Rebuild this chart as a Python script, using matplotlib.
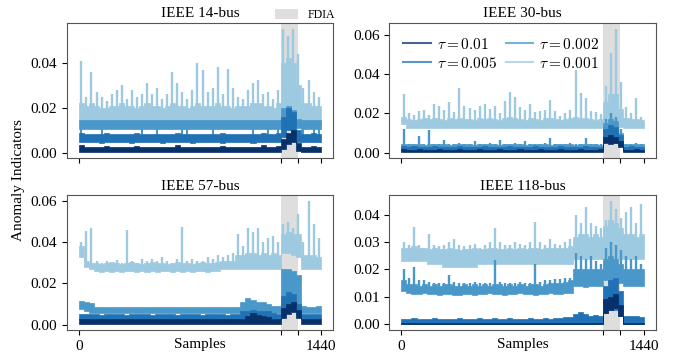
import numpy as np
import matplotlib.pyplot as plt

plt.rcParams['font.family'] = ['Liberation Serif', 'DejaVu Serif']
plt.rcParams['mathtext.fontset'] = 'cm'
plt.rcParams['font.size'] = 11

titles = ['IEEE 14-bus', 'IEEE 30-bus', 'IEEE 57-bus', 'IEEE 118-bus']
taus = ['0.01', '0.005', '0.002', '0.001']
colors = ['#08306b', '#2171b5', '#4a98c9', '#9ecae1']
n_samples = 1440
bin_width = 30
fdia = (1200, 1300)

# values in units of 1e-3, one value per 30-sample bin
# lo = bottom of the noise band, hi = top of the noise band, peak = tallest spike in the bin
# IEEE 14-bus
b14_t01_lo = [0.5, 0.4, 0.5, 0.5, 0.4, 0.5, 0.5, 0.4, 0.5, 0.5, 0.4, 0.5, 0.5, 0.4, 0.5, 0.5,
              0.4, 0.5, 0.5, 0.4, 0.5, 0.5, 0.4, 0.5, 0.5, 0.4, 0.5, 0.5, 0.4, 0.5, 0.5, 0.4,
              0.5, 0.5, 0.4, 0.5, 0.5, 0.4, 0.5, 0.5, 1.5, 4.0, 5.0, 1.0, 0.5, 0.4, 0.5, 0.5]
b14_t01_hi = [3.5, 2.5, 2.6, 2.4, 2.5, 3.0, 2.5, 2.4, 2.6, 2.5, 2.5, 3.2, 2.4, 2.5, 2.6, 2.5,
              2.4, 2.6, 2.5, 3.5, 2.4, 2.5, 2.6, 2.5, 2.4, 2.6, 2.5, 2.5, 3.0, 2.4, 2.5, 2.6,
              2.5, 2.4, 2.6, 2.5, 3.5, 2.4, 2.5, 3.0, 6.0, 9.0, 10.0, 4.5, 2.6, 2.5, 3.0, 2.5]
b14_t005_lo = [4.8, 4.6, 4.8, 4.8, 4.5, 4.8, 4.8, 4.6, 4.8, 4.8, 4.5, 4.8, 4.8, 4.6, 4.8, 4.8,
               4.5, 4.8, 4.8, 4.6, 4.8, 4.8, 4.5, 4.8, 4.8, 4.6, 4.8, 4.8, 4.5, 4.8, 4.8, 4.6,
               4.8, 4.8, 4.5, 4.8, 4.8, 4.6, 4.8, 4.8, 7.0, 10.0, 9.0, 5.0, 4.8, 4.6, 4.8, 4.8]
b14_t005_hi = [9.0, 8.5, 8.6, 8.4, 8.5, 8.8, 8.5, 8.4, 8.6, 8.5, 8.5, 9.0, 8.4, 8.5, 8.6, 8.5,
               8.4, 8.6, 8.5, 8.8, 8.4, 8.5, 8.6, 8.5, 8.4, 8.6, 8.5, 8.5, 8.8, 8.4, 8.5, 8.6,
               8.5, 8.4, 8.6, 8.5, 9.0, 8.4, 8.5, 8.8, 16.0, 20.0, 18.0, 10.0, 8.6, 8.5, 8.8, 8.5]
b14_t002_lo = [10.5, 10.5, 10.6, 10.4, 10.5, 10.5, 10.6, 10.4, 10.5, 10.5, 10.4, 10.6, 10.5, 10.5, 10.4, 10.5,
               10.5, 10.6, 10.4, 10.5, 10.5, 10.5, 10.4, 10.5, 10.6, 10.4, 10.5, 10.5, 10.6, 10.4, 10.5, 10.5,
               10.4, 10.6, 10.5, 10.5, 10.4, 10.5, 10.5, 10.5, 12.0, 12.0, 12.0, 11.0, 10.5, 10.5, 10.5, 10.5]
b14_t002_hi = [14.5, 14.6, 14.4, 14.5, 14.5, 14.6, 14.4, 14.5, 14.6, 14.5, 14.4, 14.6, 14.5, 14.5, 14.4, 14.6,
               14.5, 14.5, 14.6, 14.4, 14.5, 14.6, 14.5, 14.4, 14.5, 14.6, 14.5, 14.4, 14.6, 14.5, 14.5, 14.4,
               14.6, 14.5, 14.5, 14.4, 14.6, 14.5, 14.5, 14.6, 20.0, 21.0, 19.0, 15.0, 14.5, 14.4, 14.6, 14.5]
# (sample, value) of the short drops of the tau=0.002 curve
b14_t002_dips = [(15, 7.0), (135, 6.5), (375, 6.0), (465, 7.0), (615, 6.0), (645, 6.5), (795, 6.0),
                 (1035, 7.0), (1125, 6.0), (1185, 7.0), (1335, 7.0), (1395, 7.0), (1425, 6.5)]
b14_t001_lo = [14.0, 13.0, 13.0, 12.5, 13.0, 13.0, 13.5, 13.0, 12.5, 13.0, 13.0, 13.0, 12.5, 13.0, 13.5, 13.0,
               13.0, 12.5, 13.0, 13.0, 13.0, 13.5, 12.5, 13.0, 13.0, 13.0, 12.5, 13.0, 13.0, 13.5, 13.0, 12.5,
               13.0, 13.0, 13.0, 12.5, 13.0, 13.5, 13.0, 13.0, 17.0, 19.0, 18.0, 15.0, 13.0, 12.5, 13.0, 13.0]
b14_t001_hi = [22.0, 21.0, 22.0, 21.0, 20.0, 20.0, 21.0, 21.0, 22.0, 21.0, 21.0, 20.0, 21.0, 22.0, 21.0, 21.0,
               20.0, 21.0, 22.0, 21.0, 21.0, 20.0, 21.0, 22.0, 21.0, 21.0, 21.0, 22.0, 21.0, 21.0, 20.0, 21.0,
               21.0, 21.0, 22.0, 22.0, 21.0, 21.0, 20.0, 22.0, 40.0, 42.0, 40.0, 30.0, 22.0, 22.0, 21.0, 21.0]
b14_t001_peak = [41.0, 25.0, 36.0, 27.0, 25.0, 23.0, 26.0, 28.0, 30.0, 24.0, 28.0, 25.0, 26.0, 31.0, 26.0, 29.0,
                 24.0, 26.0, 36.0, 31.0, 27.0, 24.0, 28.0, 40.0, 37.0, 27.0, 29.0, 38.0, 26.0, 37.5, 29.0, 25.0,
                 24.0, 28.0, 31.0, 32.6, 26.0, 27.0, 24.0, 28.0, 55.0, 52.0, 55.0, 44.0, 29.0, 32.6, 27.0, 25.0]

# IEEE 30-bus
b30_t01_lo = [0.4, 0.3, 0.4, 0.4, 0.3, 0.4, 0.4, 0.3, 0.4, 0.4, 0.3, 0.4, 0.4, 0.3, 0.4, 0.4,
              0.3, 0.4, 0.4, 0.3, 0.4, 0.4, 0.3, 0.4, 0.4, 0.3, 0.4, 0.4, 0.3, 0.4, 0.4, 0.3,
              0.4, 0.4, 0.3, 0.4, 0.4, 0.3, 0.4, 0.4, 5.0, 4.5, 5.0, 3.0, 0.4, 0.3, 0.4, 0.4]
b30_t01_hi = [1.6, 1.5, 1.4, 1.6, 1.5, 1.5, 1.4, 1.6, 1.5, 1.5, 1.4, 1.6, 1.5, 1.5, 1.4, 1.6,
              1.5, 1.5, 1.4, 1.6, 1.5, 1.5, 1.4, 1.6, 1.5, 1.5, 1.4, 1.6, 1.5, 1.5, 1.4, 1.6,
              1.5, 1.5, 1.4, 1.6, 1.5, 1.5, 1.4, 1.6, 8.0, 9.0, 8.0, 6.0, 1.5, 1.4, 1.6, 1.5]
b30_t005_lo = [1.0, 0.9, 1.0, 1.0, 0.9, 1.0, 1.0, 0.9, 1.0, 1.0, 0.9, 1.0, 1.0, 0.9, 1.0, 1.0,
               0.9, 1.0, 1.0, 0.9, 1.0, 1.0, 0.9, 1.0, 1.0, 0.9, 1.0, 1.0, 0.9, 1.0, 1.0, 0.9,
               1.0, 1.0, 0.9, 1.0, 1.0, 0.9, 1.0, 1.0, 5.5, 5.0, 5.0, 4.0, 1.0, 0.9, 1.0, 1.0]
b30_t005_hi = [3.2, 3.0, 3.1, 3.0, 2.9, 3.0, 3.1, 3.0, 3.0, 2.9, 3.0, 3.1, 3.0, 3.0, 2.9, 3.0,
               3.1, 3.0, 3.0, 2.9, 3.0, 3.1, 3.0, 3.0, 2.9, 3.0, 3.1, 3.0, 3.0, 2.9, 3.0, 3.1,
               3.0, 3.0, 2.9, 3.0, 3.1, 3.0, 3.0, 2.9, 12.0, 14.0, 13.0, 9.0, 3.0, 3.1, 3.0, 3.0]
b30_t002_lo = [2.2, 2.1, 2.2, 2.2, 2.1, 2.2, 2.2, 2.1, 2.2, 2.2, 2.1, 2.2, 2.2, 2.1, 2.2, 2.2,
               2.1, 2.2, 2.2, 2.1, 2.2, 2.2, 2.1, 2.2, 2.2, 2.1, 2.2, 2.2, 2.1, 2.2, 2.2, 2.1,
               2.2, 2.2, 2.1, 2.2, 2.2, 2.1, 2.2, 2.2, 7.0, 6.0, 6.0, 5.0, 2.2, 2.1, 2.2, 2.2]
b30_t002_hi = [4.4, 4.2, 4.3, 4.2, 4.1, 4.2, 4.3, 4.2, 4.2, 4.1, 4.2, 4.3, 4.2, 4.2, 4.1, 4.2,
               4.3, 4.2, 4.2, 4.1, 4.2, 4.3, 4.2, 4.2, 4.1, 4.2, 4.3, 4.2, 4.2, 4.1, 4.2, 4.3,
               4.2, 4.2, 4.1, 4.2, 4.3, 4.2, 4.2, 4.1, 15.0, 17.0, 16.0, 10.0, 4.2, 4.3, 4.2, 4.2]
b30_t002_peak = [12.0, 4.5, 4.6, 8.4, 4.5, 11.4, 4.6, 4.5, 6.5, 4.6, 4.5, 5.0, 4.6, 4.5, 6.0, 4.6,
                 4.5, 5.0, 4.6, 6.5, 4.5, 4.6, 5.0, 4.5, 6.0, 4.6, 4.5, 4.6, 5.0, 7.5, 4.6, 4.5,
                 4.6, 5.0, 4.5, 4.6, 7.5, 4.5, 4.6, 4.5, 17.0, 20.0, 18.0, 12.0, 4.6, 4.5, 5.0, 4.6]
b30_t001_lo = [14.5, 12.5, 12.4, 12.6, 12.5, 12.5, 12.4, 12.6, 12.5, 12.5, 12.4, 12.6, 12.5, 12.5, 12.4, 12.6,
               12.5, 12.5, 12.4, 12.6, 12.5, 12.5, 12.4, 12.6, 12.5, 12.5, 12.4, 12.6, 12.5, 12.5, 12.4, 12.6,
               12.5, 12.5, 12.4, 12.6, 12.5, 12.5, 12.4, 12.6, 15.0, 16.0, 15.0, 13.0, 12.5, 12.4, 12.6, 12.5]
b30_t001_hi = [18.0, 17.0, 16.5, 17.0, 17.5, 17.0, 17.5, 17.0, 16.5, 17.5, 17.0, 17.5, 17.0, 17.0, 16.5, 17.5,
               17.0, 17.5, 17.0, 16.5, 17.5, 18.0, 17.5, 17.0, 16.5, 17.5, 17.0, 16.5, 17.5, 17.5, 17.0, 16.5,
               17.0, 17.5, 18.0, 17.5, 17.5, 17.0, 16.5, 17.0, 26.0, 30.0, 30.0, 22.0, 17.5, 17.0, 17.0, 16.5]
b30_t001_peak = [30.0, 20.0, 19.0, 21.0, 21.7, 19.0, 25.0, 24.0, 21.7, 26.0, 20.5, 33.0, 24.0, 22.6, 21.5, 24.0,
                 25.0, 22.0, 24.0, 20.0, 26.5, 31.0, 28.5, 23.5, 21.7, 24.8, 20.5, 21.0, 21.7, 27.0, 21.0, 18.5,
                 20.0, 21.7, 42.0, 30.6, 28.0, 21.0, 20.5, 19.5, 34.0, 51.0, 63.0, 36.0, 23.0, 20.0, 27.7, 18.0]

# IEEE 57-bus
b57_t01_lo = [0.4, 0.4, 0.3, 0.4, 0.4, 0.3, 0.4, 0.4, 0.3, 0.4, 0.4, 0.3, 0.4, 0.4, 0.3, 0.4,
              0.4, 0.3, 0.4, 0.4, 0.3, 0.4, 0.4, 0.3, 0.4, 0.4, 0.3, 0.4, 0.4, 0.3, 0.4, 0.4,
              0.3, 0.4, 0.4, 0.3, 0.4, 0.4, 0.3, 0.4, 3.0, 5.0, 6.0, 3.0, 0.4, 0.3, 0.4, 0.4]
b57_t01_hi = [2.8, 2.7, 2.6, 2.7, 2.8, 2.7, 2.6, 2.7, 2.8, 2.7, 2.6, 2.7, 2.8, 2.7, 2.6, 2.7,
              2.8, 2.7, 2.6, 2.7, 2.8, 2.7, 2.6, 2.7, 2.8, 2.7, 2.6, 2.7, 2.8, 2.7, 2.6, 2.7,
              2.8, 4.0, 5.5, 4.5, 4.0, 3.5, 2.8, 2.7, 8.0, 10.0, 11.0, 7.0, 2.8, 2.7, 2.6, 2.7]
b57_t005_lo = [2.5, 2.4, 2.5, 2.5, 2.4, 2.5, 2.5, 2.4, 2.5, 2.5, 2.4, 2.5, 2.5, 2.4, 2.5, 2.5,
               2.4, 2.5, 2.5, 2.4, 2.5, 2.5, 2.4, 2.5, 2.5, 2.4, 2.5, 2.5, 2.4, 2.5, 2.5, 2.4,
               2.5, 2.5, 2.4, 2.5, 2.5, 2.4, 2.5, 2.5, 6.0, 8.0, 8.0, 5.0, 2.5, 2.4, 2.5, 2.5]
b57_t005_hi = [5.2, 5.0, 5.1, 5.0, 4.9, 5.0, 5.1, 5.0, 5.0, 4.9, 5.0, 5.1, 5.0, 5.0, 4.9, 5.0,
               5.1, 5.0, 5.0, 4.9, 5.0, 5.1, 5.0, 5.0, 4.9, 5.0, 5.1, 5.0, 5.0, 4.9, 5.0, 5.1,
               6.5, 6.5, 7.0, 6.5, 6.5, 6.5, 5.5, 5.0, 14.0, 16.0, 15.0, 10.0, 5.0, 5.1, 5.0, 5.0]
b57_t002_lo = [7.5, 6.5, 5.8, 5.8, 5.7, 5.8, 5.8, 5.7, 5.8, 5.8, 5.7, 5.8, 5.8, 5.7, 5.8, 5.8,
               5.7, 5.8, 5.8, 5.7, 5.8, 5.8, 5.7, 5.8, 5.8, 5.7, 5.8, 5.8, 5.7, 5.8, 5.8, 5.7,
               6.0, 6.5, 6.5, 6.5, 6.0, 6.0, 5.8, 5.8, 10.0, 12.0, 12.0, 9.0, 5.8, 5.7, 5.8, 5.8]
b57_t002_hi = [11.5, 11.0, 10.5, 8.6, 8.5, 8.6, 8.4, 8.5, 8.6, 8.5, 8.4, 8.6, 8.5, 8.5, 8.4, 8.6,
               8.5, 8.5, 8.6, 8.4, 8.5, 8.6, 8.5, 8.4, 8.5, 8.6, 8.5, 8.4, 8.6, 8.5, 8.5, 8.4,
               11.0, 13.0, 12.0, 11.0, 11.0, 10.0, 9.0, 9.0, 27.0, 27.0, 26.0, 24.0, 9.0, 8.6, 8.5, 9.0]
b57_t001_lo = [33.0, 28.0, 27.0, 26.0, 25.5, 26.0, 25.5, 26.0, 25.5, 26.0, 26.0, 25.5, 26.0, 25.5, 26.0, 25.5,
               26.0, 26.0, 25.5, 26.0, 25.5, 26.0, 25.5, 26.0, 26.0, 25.5, 26.0, 26.0, 27.0, 27.0, 27.0, 27.0,
               27.0, 27.0, 27.0, 27.0, 27.0, 27.0, 27.0, 27.0, 35.0, 35.0, 34.0, 33.0, 27.0, 27.0, 27.0, 27.0]
b57_t001_hi = [38.0, 31.0, 30.0, 30.0, 29.5, 30.0, 30.5, 30.0, 29.5, 30.0, 30.5, 30.0, 29.5, 30.0, 30.5, 30.0,
               30.0, 29.5, 30.0, 30.5, 30.0, 30.0, 29.5, 30.0, 30.5, 30.0, 30.0, 30.5, 31.0, 31.0, 31.0, 34.0,
               34.0, 35.0, 35.0, 34.0, 35.0, 34.0, 35.0, 34.0, 44.0, 45.0, 44.0, 44.0, 34.0, 34.0, 34.0, 33.0]
b57_t001_peak = [40.0, 45.5, 47.0, 31.0, 30.0, 31.0, 30.0, 31.5, 30.0, 46.0, 31.0, 30.0, 32.0, 31.0, 32.0, 31.0,
                 33.0, 31.0, 30.0, 32.0, 47.7, 31.0, 32.0, 31.0, 31.0, 33.0, 32.0, 34.0, 33.0, 34.0, 35.0, 44.0,
                 38.0, 47.0, 45.0, 47.0, 40.0, 42.0, 43.0, 40.0, 49.0, 50.0, 47.0, 54.0, 40.0, 60.0, 49.0, 42.0]

# IEEE 118-bus
b118_t01_lo = [0.0] * 40 + [4.0, 5.0, 6.0, 3.0, 0.0, 0.0, 0.0, 0.0]
b118_t01_hi = [0.4] * 40 + [9.0, 10.0, 11.0, 7.0, 0.4, 0.4, 0.4, 0.4]
b118_t005_lo = [0.1] * 40 + [4.0, 5.0, 5.0, 3.0, 0.1, 0.1, 0.1, 0.1]
b118_t005_hi = [2.0, 1.9, 2.1, 2.0, 1.8, 2.0, 2.1, 1.9, 2.0, 2.0, 1.8, 2.1, 2.0, 1.9, 2.0, 2.1,
                2.0, 1.9, 2.2, 2.0, 1.9, 2.1, 2.0, 2.0, 1.9, 2.1, 2.0, 2.0, 2.2, 2.0, 2.1, 2.3,
                2.5, 2.6, 3.5, 4.5, 3.5, 3.0, 3.2, 3.0, 14.0, 16.0, 17.0, 12.0, 3.0, 2.8, 3.0, 2.6]
b118_t002_lo = [12.0, 11.5, 11.0, 11.0, 11.2, 11.0, 11.0, 10.8, 11.0, 11.0, 10.5, 10.5, 11.0, 11.0, 10.8, 11.0,
                11.0, 11.2, 11.0, 11.0, 10.8, 11.0, 11.0, 11.2, 11.0, 11.0, 10.8, 11.0, 11.0, 11.2, 11.0, 11.0,
                11.2, 11.5, 14.0, 14.0, 13.5, 14.0, 14.0, 14.0, 16.0, 15.0, 16.0, 15.0, 14.0, 14.0, 14.0, 14.0]
b118_t002_hi = [16.0, 14.5, 14.5, 14.0, 14.5, 14.0, 14.5, 14.0, 14.5, 14.5, 14.0, 14.0, 14.5, 14.0, 14.5, 14.0,
                14.5, 14.0, 14.5, 14.5, 14.0, 14.5, 14.0, 14.5, 14.0, 14.5, 14.5, 14.0, 14.5, 15.0, 15.0, 15.0,
                15.5, 16.0, 20.0, 20.0, 20.0, 20.0, 20.0, 20.0, 24.0, 25.0, 24.0, 22.0, 20.0, 20.0, 20.0, 20.0]
b118_t002_peak = [20.0, 17.0, 21.0, 16.0, 16.0, 15.5, 15.0, 15.0, 15.0, 18.0, 15.5, 15.0, 15.2, 15.0, 15.5, 15.0,
                  15.0, 15.2, 23.4, 15.5, 15.0, 15.2, 15.0, 15.5, 15.0, 15.2, 22.0, 15.5, 16.0, 16.0, 16.5, 16.5,
                  17.0, 17.0, 26.0, 25.0, 24.0, 25.0, 23.0, 22.0, 28.0, 30.0, 29.0, 27.0, 25.0, 24.0, 25.0, 22.0]
b118_t001_lo = [23.0, 23.0, 23.0, 23.0, 23.0, 22.0, 22.0, 22.0, 21.0, 21.0, 21.0, 21.0, 21.0, 21.0, 21.0, 22.0,
                22.0, 22.0, 22.0, 22.0, 22.0, 22.0, 22.0, 22.0, 22.0, 22.0, 22.0, 22.0, 22.0, 22.0, 22.0, 22.0,
                22.0, 22.0, 24.0, 24.0, 24.0, 24.0, 24.0, 24.0, 24.0, 24.0, 24.0, 24.0, 24.0, 24.0, 24.0, 24.0]
b118_t001_hi = [28.0, 28.0, 28.5, 28.0, 28.0, 27.5, 28.0, 27.5, 27.5, 28.0, 27.5, 27.0, 27.5, 27.5, 28.0, 27.5,
                27.5, 28.0, 28.0, 27.5, 27.5, 28.0, 27.5, 28.0, 27.5, 28.0, 28.0, 27.5, 28.0, 28.0, 28.0, 28.0,
                28.0, 28.5, 32.0, 33.0, 33.0, 32.0, 33.0, 32.0, 36.0, 38.0, 37.0, 35.0, 33.0, 33.0, 32.0, 33.0]
b118_t001_peak = [30.0, 29.0, 35.6, 29.0, 28.0, 33.0, 29.0, 28.5, 29.0, 30.0, 31.0, 29.0, 28.5, 29.0, 29.5, 28.0,
                  29.0, 30.0, 35.0, 30.0, 29.0, 29.0, 30.0, 29.5, 29.0, 30.0, 37.4, 30.0, 29.0, 31.0, 29.5, 29.0,
                  30.0, 31.0, 40.0, 37.0, 43.0, 37.0, 36.0, 35.0, 38.0, 45.0, 42.0, 39.0, 41.0, 43.0, 37.0, 44.0]

# (lo, hi, peak, dips) per tau, ordered as taus
panels = [
    [(b14_t01_lo, b14_t01_hi, None, None), (b14_t005_lo, b14_t005_hi, None, None),
     (b14_t002_lo, b14_t002_hi, None, b14_t002_dips), (b14_t001_lo, b14_t001_hi, b14_t001_peak, None)],
    [(b30_t01_lo, b30_t01_hi, None, None), (b30_t005_lo, b30_t005_hi, None, None),
     (b30_t002_lo, b30_t002_hi, b30_t002_peak, None), (b30_t001_lo, b30_t001_hi, b30_t001_peak, None)],
    [(b57_t01_lo, b57_t01_hi, None, None), (b57_t005_lo, b57_t005_hi, None, None),
     (b57_t002_lo, b57_t002_hi, None, None), (b57_t001_lo, b57_t001_hi, b57_t001_peak, None)],
    [(b118_t01_lo, b118_t01_hi, None, None), (b118_t005_lo, b118_t005_hi, None, None),
     (b118_t002_lo, b118_t002_hi, b118_t002_peak, None), (b118_t001_lo, b118_t001_hi, b118_t001_peak, None)],
]

fig, axes = plt.subplots(2, 2, figsize=(6.81, 3.6), dpi=100)
fig.subplots_adjust(left=0.098, right=0.963, top=0.936, bottom=0.083, wspace=0.21, hspace=0.274)

edges = np.arange(0, n_samples + 1, bin_width)
centers = edges[:-1] + bin_width / 2

for k, ax in enumerate(axes.flat):
    shade = ax.axvspan(fdia[0], fdia[1], color='#dedede', lw=0, zorder=0)
    handles = [None] * 4
    # lightest first so darker series end up on top
    for j in range(3, -1, -1):
        lo, hi, peak, dips = panels[k][j]
        lo = np.array(lo) * 1e-3
        hi = np.array(hi) * 1e-3
        z = 2 + (3 - j)
        ax.fill_between(edges, np.append(lo, lo[-1]), np.append(hi, hi[-1]), step='post',
                        color=colors[j], lw=0.5, edgecolor=colors[j], zorder=z)
        if peak is not None:
            ax.vlines(centers, lo, np.array(peak) * 1e-3, color=colors[j], lw=1.7, zorder=z)
        if dips is not None:
            ds = np.array([d[0] for d in dips])
            dv = np.array([d[1] for d in dips]) * 1e-3
            ax.vlines(ds, dv, lo[ds // bin_width], color=colors[j], lw=1.5, zorder=z)
        handles[j], = ax.plot([], [], color=colors[j], lw=1.5, label=r'$\tau = %s$' % taus[j])
    ax.set_xlim(-72, n_samples + 72)
    ax.set_title(titles[k], fontsize=11, pad=4)
    ax.set_xticks([0, fdia[0], fdia[1], n_samples])
    if k >= 2:
        ax.set_xticklabels(['0', '', '', '1440'])
        ax.set_xlabel('Samples')
        ax.xaxis.set_label_coords(0.5, -0.06)
    else:
        ax.set_xticklabels([])
    for s in ax.spines.values():
        s.set_color('#555555')
    ax.tick_params(labelsize=11, length=3.5)
    if k == 0:
        ax.legend([shade], ['FDIA'], loc='lower right', bbox_to_anchor=(1.025, 0.98),
                  frameon=False, fontsize=8.5, handlelength=2.0, handleheight=1.0,
                  borderaxespad=0.0)
    if k == 1:
        leg = ax.legend(handles, [h.get_label() for h in handles], loc='upper left', ncol=2,
                        frameon=False, fontsize=11, handlelength=1.8, handletextpad=0.4,
                        columnspacing=0.6, labelspacing=0.25, borderaxespad=0.5)
        for h in leg.legend_handles:
            h.set_alpha(0.75)

axes[1, 1].set_yticks([0.0, 0.01, 0.02, 0.03, 0.04])
fig.text(0.027, 0.5, 'Anomaly Indicators', rotation=90, va='center', ha='center', fontsize=11)

fig.savefig('out.png', dpi=100)
